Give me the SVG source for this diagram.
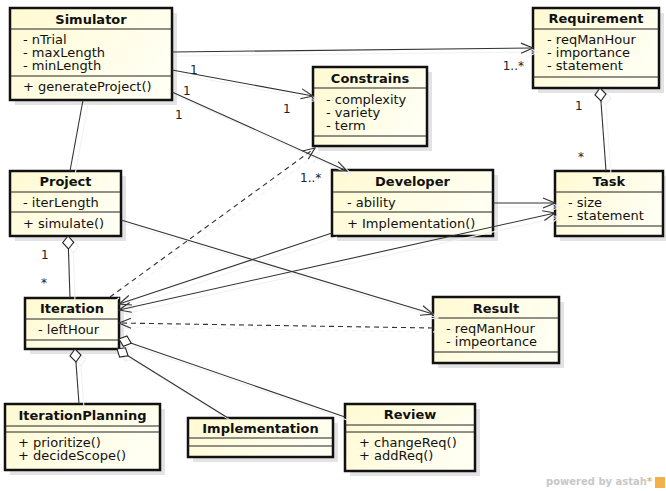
<svg xmlns="http://www.w3.org/2000/svg" xmlns:xlink="http://www.w3.org/1999/xlink" width="666" height="491" viewBox="0 0 666 491">
<style>
.sh{fill:#e3e3e3;}
.box{fill:url(#cream);stroke:#111;stroke-width:2.5;}
.div{stroke:#222;stroke-width:1;}
.t{font-family:"DejaVu Sans",sans-serif;font-size:13px;font-weight:bold;text-anchor:middle;fill:#111;}
.a{font-family:"DejaVu Sans",sans-serif;font-size:13px;fill:#111;}
.ln{fill:none;stroke:#333;stroke-width:1.1;}
.dash{stroke-dasharray:5,4;}
.lbl{font-family:"DejaVu Sans",sans-serif;font-size:12px;fill:#222;}
</style>
<defs>
<linearGradient id="cream" x1="0" y1="0" x2="1" y2="0.4">
<stop offset="0" stop-color="#fffad2"/>
<stop offset="1" stop-color="#fffff2"/>
</linearGradient>
<marker id="arr" viewBox="-14 -7 15 14" refX="0" refY="0" markerWidth="15" markerHeight="14" orient="auto" markerUnits="userSpaceOnUse">
<path d="M-12,-5 L0,0 L-12,5" fill="none" stroke="#333" stroke-width="1.1"/>
</marker>
<marker id="arrS" viewBox="-1 -7 15 14" refX="0" refY="0" markerWidth="15" markerHeight="14" orient="auto" markerUnits="userSpaceOnUse">
<path d="M12,-5 L0,0 L12,5" fill="none" stroke="#333" stroke-width="1.1"/>
</marker>
<marker id="dia" viewBox="-1 -7 16 14" refX="0" refY="0" markerWidth="16" markerHeight="14" orient="auto" markerUnits="userSpaceOnUse">
<path d="M0,0 L6.5,-5.5 L13,0 L6.5,5.5 Z" fill="#fff" stroke="#222" stroke-width="1.1"/>
</marker>
<filter id="light" x="-5%" y="-5%" width="110%" height="110%">
<feColorMatrix type="matrix" values="0.1 0 0 0 0.88  0 0.1 0 0 0.88  0 0 0.1 0 0.88  0 0 0 1 0"/>
</filter>
</defs>
<rect width="666" height="491" fill="#fff"/>

<g id="Simulator">
<rect class="sh" x="15" y="13" width="162" height="92"/>
<rect class="box" x="10" y="8" width="162" height="92"/>
<line class="div" x1="10" y1="29" x2="172" y2="29"/>
<line class="div" x1="10" y1="76" x2="172" y2="76"/>
<text class="t" x="91" y="24">Simulator</text>
<text class="a" x="23" y="44">- nTrial</text>
<text class="a" x="23" y="57">- maxLength</text>
<text class="a" x="23" y="70">- minLength</text>
<text class="a" x="23" y="91">+ generateProject()</text>
</g>

<g id="Requirement">
<rect class="sh" x="538" y="13" width="126" height="80"/>
<rect class="box" x="533" y="8" width="126" height="80"/>
<line class="div" x1="533" y1="29" x2="659" y2="29"/>
<line class="div" x1="533" y1="77" x2="659" y2="77"/>
<text class="t" x="596" y="23">Requirement</text>
<text class="a" x="547" y="44">- reqManHour</text>
<text class="a" x="547" y="57">- importance</text>
<text class="a" x="547" y="70">- statement</text>
</g>

<g id="Constrains">
<rect class="sh" x="318" y="72" width="114" height="79"/>
<rect class="box" x="313" y="67" width="114" height="79"/>
<line class="div" x1="313" y1="88" x2="427" y2="88"/>
<line class="div" x1="313" y1="136" x2="427" y2="136"/>
<text class="t" x="370" y="83">Constrains</text>
<text class="a" x="326" y="104">- complexity</text>
<text class="a" x="326" y="117">- variety</text>
<text class="a" x="326" y="130">- term</text>
</g>

<g id="Developer">
<rect class="sh" x="337" y="175" width="161" height="66"/>
<rect class="box" x="332" y="170" width="161" height="66"/>
<line class="div" x1="332" y1="192" x2="493" y2="192"/>
<line class="div" x1="332" y1="212" x2="493" y2="212"/>
<text class="t" x="412.5" y="186">Developer</text>
<text class="a" x="347" y="207">- ability</text>
<text class="a" x="347" y="228">+ Implementation()</text>
</g>

<g id="Task">
<rect class="sh" x="560" y="176" width="108" height="65"/>
<rect class="box" x="555" y="171" width="108" height="65"/>
<line class="div" x1="555" y1="192" x2="663" y2="192"/>
<line class="div" x1="555" y1="226" x2="663" y2="226"/>
<text class="t" x="609" y="186">Task</text>
<text class="a" x="568" y="207">- size</text>
<text class="a" x="568" y="220">- statement</text>
</g>

<g id="Project">
<rect class="sh" x="15" y="176" width="111" height="65"/>
<rect class="box" x="10" y="171" width="111" height="65"/>
<line class="div" x1="10" y1="192" x2="121" y2="192"/>
<line class="div" x1="10" y1="212" x2="121" y2="212"/>
<text class="t" x="65.5" y="186">Project</text>
<text class="a" x="23" y="207">- iterLength</text>
<text class="a" x="23" y="228">+ simulate()</text>
</g>

<g id="Iteration">
<rect class="sh" x="30" y="303" width="94" height="51"/>
<rect class="box" x="25" y="298" width="94" height="51"/>
<line class="div" x1="25" y1="319" x2="119" y2="319"/>
<line class="div" x1="25" y1="340" x2="119" y2="340"/>
<text class="t" x="72" y="313">Iteration</text>
<text class="a" x="38" y="334">- leftHour</text>
</g>

<g id="IterationPlanning">
<rect class="sh" x="10" y="409" width="155" height="66"/>
<rect class="box" x="5" y="404" width="155" height="66"/>
<line class="div" x1="5" y1="426" x2="160" y2="426"/>
<line class="div" x1="5" y1="432" x2="160" y2="432"/>
<text class="t" x="82.5" y="420">IterationPlanning</text>
<text class="a" x="18" y="447">+ prioritize()</text>
<text class="a" x="18" y="460">+ decideScope()</text>
</g>

<g id="Implementation">
<rect class="sh" x="193" y="423" width="145" height="39"/>
<rect class="box" x="188" y="418" width="145" height="39"/>
<line class="div" x1="188" y1="438" x2="333" y2="438"/>
<line class="div" x1="188" y1="446" x2="333" y2="446"/>
<text class="t" x="260.5" y="433">Implementation</text>
</g>

<g id="Review">
<rect class="sh" x="350" y="409" width="130" height="67"/>
<rect class="box" x="345" y="404" width="130" height="67"/>
<line class="div" x1="345" y1="425" x2="475" y2="425"/>
<line class="div" x1="345" y1="432" x2="475" y2="432"/>
<text class="t" x="410" y="419">Review</text>
<text class="a" x="359" y="447">+ changeReq()</text>
<text class="a" x="359" y="460">+ addReq()</text>
</g>

<g id="Result">
<rect class="sh" x="438" y="302" width="126" height="66"/>
<rect class="box" x="433" y="297" width="126" height="66"/>
<line class="div" x1="433" y1="318" x2="559" y2="318"/>
<line class="div" x1="433" y1="352" x2="559" y2="352"/>
<text class="t" x="496" y="313">Result</text>
<text class="a" x="446" y="333">- reqManHour</text>
<text class="a" x="446" y="346">- impeortance</text>
</g>

<g id="connectors">
<use xlink:href="#conn-lines" href="#conn-lines" transform="translate(5,4)" filter="url(#light)"/>
<g id="conn-lines">
<path class="ln" d="M172,52 L533,48" marker-end="url(#arr)"/>
<path class="ln" d="M172,70 L313,96" marker-end="url(#arr)"/>
<path class="ln" d="M172,92 L347,171" marker-end="url(#arr)"/>
<path class="ln" d="M83,100 L70,171"/>
<path class="ln" d="M600,88 L606,171" marker-start="url(#dia)"/>
<path class="ln" d="M493,203 L555,203" marker-end="url(#arr)"/>
<path class="ln" d="M555,213 L119,310" marker-start="url(#arrS)" marker-end="url(#arr)"/>
<path class="ln" d="M332,233 L119,304" marker-end="url(#arr)"/>
<path class="ln" d="M121,220 L433,314" marker-end="url(#arr)"/>
<path class="ln dash" d="M433,328 L119,323" marker-end="url(#arr)"/>
<path class="ln dash" d="M110,297 L315,148" marker-end="url(#arr)"/>
<path class="ln" d="M68,236 L70,298" marker-start="url(#dia)"/>
<path class="ln" d="M75,349 L79,404" marker-start="url(#dia)"/>
<path class="ln" d="M117,349 L228,418" marker-start="url(#dia)"/>
<path class="ln" d="M119,339 L345,417" marker-start="url(#dia)"/>
</g>
</g>

<g id="labels">
<text class="lbl" x="524" y="70" text-anchor="end">1..*</text>
<text class="lbl" x="190" y="74">1</text>
<text class="lbl" x="283" y="113">1</text>
<text class="lbl" x="183" y="95">1</text>
<text class="lbl" x="175" y="119">1</text>
<text class="lbl" x="300" y="182">1..*</text>
<text class="lbl" x="575" y="110">1</text>
<text class="lbl" x="578" y="161">*</text>
<text class="lbl" x="41" y="259">1</text>
<text class="lbl" x="41" y="287">*</text>
</g>

<g id="watermark">
<text x="546" y="485" font-family="DejaVu Sans, sans-serif" font-size="10px" font-weight="bold" fill="#c8c8c8">powered by astah<tspan fill="#f0b060">*</tspan></text>
<rect x="655" y="477" width="10" height="11" fill="#f5b04a"/>
</g>
</svg>
